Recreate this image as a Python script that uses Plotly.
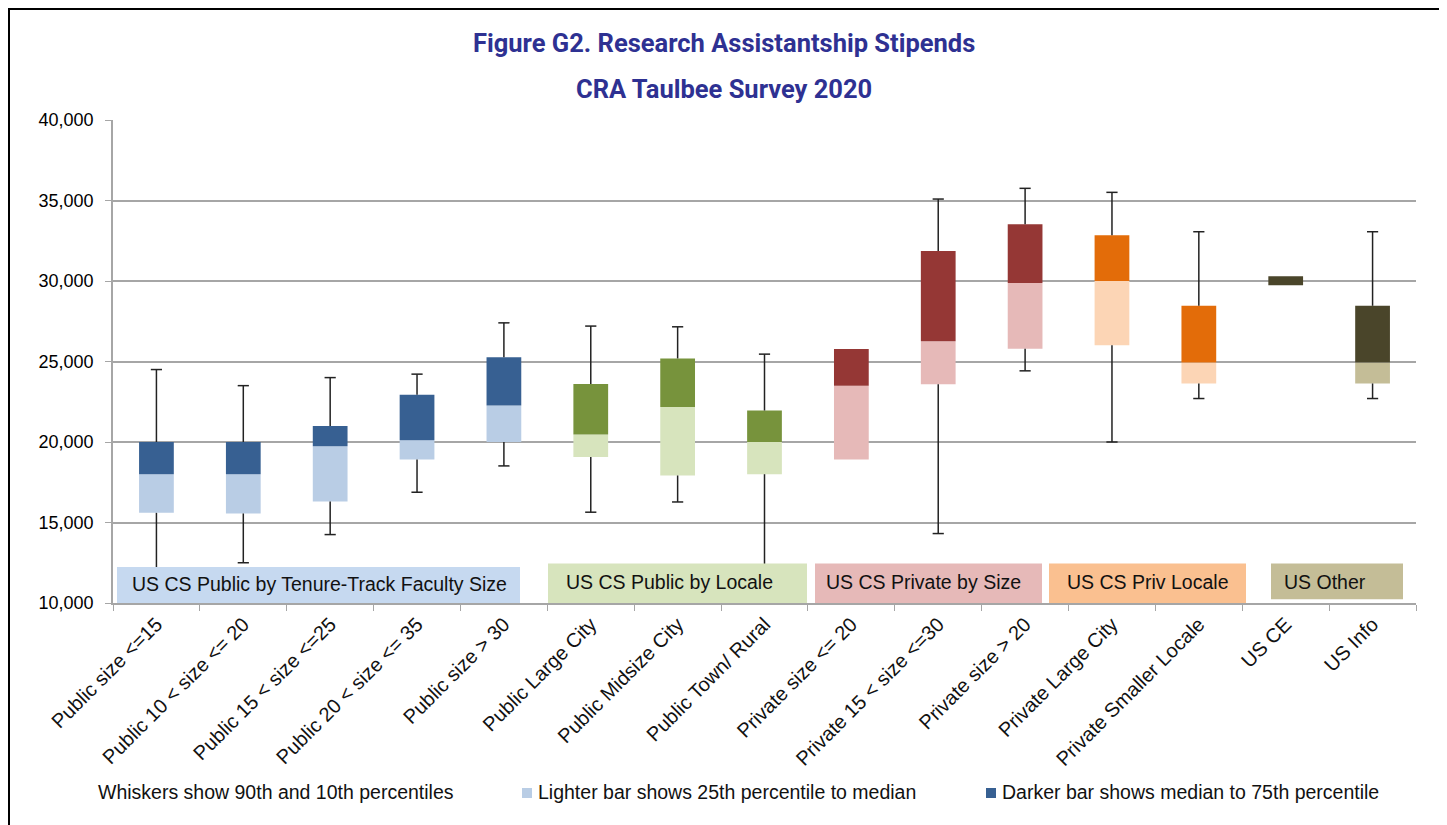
import plotly.graph_objects as go

categories = [
    "Public size <=15", "Public 10 < size <= 20", "Public 15 < size <=25",
    "Public 20 < size <= 35", "Public size > 30", "Public Large City",
    "Public Midsize City", "Public Town/ Rural", "Private size <= 20",
    "Private 15 < size <=30", "Private size > 20", "Private Large City",
    "Private Smaller Locale", "US CE", "US Info",
]
p10 = [12000, 12500, 14250, 16880, 18515, 15640, 16275, 12000, None, 14313, 24420, 20000, 22700, None, 22700]
q25 = [15600, 15560, 16300, 18910, 20000, 19075, 17920, 18000, 18910, 23590, 25787, 26016, 23635, 29730, 23635]
median = [18000, 18000, 19740, 20110, 22270, 20470, 22180, 20000, 23490, 26265, 29870, 30000, 24940, 29730, 24940]
q75 = [20000, 20000, 21000, 22930, 25270, 23610, 25190, 21955, 25770, 31858, 33518, 32834, 28460, 30290, 28460]
p90 = [24500, 23500, 24000, 24215, 27400, 27200, 27155, 25457, None, 35090, 35755, 35506, 33060, None, 33060]
group_of = [0, 0, 0, 0, 0, 1, 1, 1, 2, 2, 2, 3, 3, 4, 4]

group_names = ["US CS Public by Tenure-Track Faculty Size", "US CS Public by Locale",
               "US CS Private by Size", "US CS Priv Locale", "US Other"]
dark_colors = ["#376092", "#77933c", "#953735", "#e36c09", "#4a452a"]
light_colors = ["#b9cde5", "#d7e4bd", "#e6b9b8", "#fcd5b5", "#c4bd97"]
label_colors = ["#c6d9f0", "#d7e4bd", "#e6b9b8", "#fac090", "#c4bd97"]

legend_texts = ["Whiskers show 90th and 10th percentiles",
                "Lighter bar shows 25th percentile to median",
                "Darker bar shows median to 75th percentile"]

OFF = 8  # page body margin
W, H = 1447 - OFF, 825 - OFF
# plot area in page pixels
L, R, T, B = 113, 1416, 120, 603
FONT = "Liberation Sans, Arial, Helvetica, sans-serif"
TXT = "#111111"


def px_x(px):
    return (px - L) / (R - L)


def px_y(py):
    return (B - py) / (B - T)


def cat_x(px):
    return (px - L) / ((R - L) / len(categories)) - 0.5


fig = go.Figure()

# whiskers
wx, wy, cx, cy = [], [], [], []
for i, c in enumerate(categories):
    if p90[i] is not None:
        wx += [c, c, None]
        wy += [q75[i], p90[i], None]
        cx.append(c)
        cy.append(p90[i])
    if p10[i] is not None:
        wx += [c, c, None]
        wy += [q25[i], p10[i], None]
        cx.append(c)
        cy.append(p10[i])
fig.add_trace(go.Scatter(x=wx, y=wy, mode="lines", line=dict(color="#222222", width=1.5),
                         hoverinfo="skip", showlegend=False))
fig.add_trace(go.Scatter(x=cx, y=cy, mode="markers",
                         marker=dict(symbol="line-ew", size=8, line=dict(color="#222222", width=1.5)),
                         hoverinfo="skip", showlegend=False))

# boxes
fig.add_trace(go.Bar(
    x=categories, y=[m - a for m, a in zip(median, q25)], base=q25, width=0.4,
    marker=dict(color=[light_colors[g] for g in group_of], line=dict(width=0)),
    showlegend=False))
fig.add_trace(go.Bar(
    x=categories, y=[b - m for b, m in zip(q75, median)], base=median, width=0.4,
    marker=dict(color=[dark_colors[g] for g in group_of], line=dict(width=0)),
    showlegend=False))

fig.update_layout(barmode="overlay")

# group label boxes
label_boxes = [  # page pixel x extents, value y extents
    (117, 520, 12240, 10000),
    (548, 807, 12460, 10000),
    (815, 1042, 12460, 10000),
    (1049, 1246, 12460, 10000),
    (1271, 1403, 12460, 10230),
]
label_text_centers = [319, 669, 923, 1147, 1325]
shapes = []
annotations = []
for gi, (x0, x1, ytop, ybot) in enumerate(label_boxes):
    shapes.append(dict(type="rect", xref="x", yref="y", x0=cat_x(x0), x1=cat_x(x1),
                       y0=ybot, y1=ytop, fillcolor=label_colors[gi], line=dict(width=0),
                       layer="above"))
    annotations.append(dict(x=cat_x(label_text_centers[gi]), y=(ytop + 10000) / 2 + 50,
                            xref="x", yref="y", text=group_names[gi], showarrow=False,
                            font=dict(family=FONT, size=19.5, color=TXT),
                            xanchor="center", yanchor="middle"))

# titles
TFONT = "Roboto, Liberation Sans, Arial, sans-serif"
annotations.append(dict(x=px_x(723.5), y=px_y(43), xref="paper", yref="paper",
                        text="<b>Figure G2. Research Assistantship Stipends</b>", showarrow=False,
                        font=dict(family=TFONT, size=25.5, color="#2e3192"),
                        xanchor="center", yanchor="middle"))
annotations.append(dict(x=px_x(723.5), y=px_y(89), xref="paper", yref="paper",
                        text="<b>CRA Taulbee Survey 2020</b>", showarrow=False,
                        font=dict(family=TFONT, size=25.5, color="#2e3192"),
                        xanchor="center", yanchor="middle"))

# bottom legend
leg_y = px_y(792)
for xpos, txt in zip([96, 536, 1000], legend_texts):
    annotations.append(dict(x=px_x(xpos), y=leg_y, xref="paper", yref="paper", text=txt,
                            showarrow=False, font=dict(family=FONT, size=19.5, color=TXT),
                            xanchor="left", yanchor="middle"))
shapes.append(dict(type="rect", xref="paper", yref="paper", x0=px_x(522), x1=px_x(532),
                   y0=px_y(798), y1=px_y(788), fillcolor=light_colors[0], line=dict(width=0)))
shapes.append(dict(type="rect", xref="paper", yref="paper", x0=px_x(986), x1=px_x(996),
                   y0=px_y(798), y1=px_y(788), fillcolor=dark_colors[0], line=dict(width=0)))

# outer frame (clamped to the drawable area)
shapes.append(dict(type="rect", xref="paper", yref="paper", x0=px_x(OFF + 1), x1=px_x(1441),
                   y0=px_y(840), y1=px_y(OFF + 1), line=dict(color="#000000", width=2),
                   fillcolor="rgba(0,0,0,0)"))

fig.update_layout(
    width=W, height=H,
    margin=dict(l=L - OFF, r=W - (R - OFF), t=T - OFF, b=H - (B - OFF), pad=0),
    paper_bgcolor="white", plot_bgcolor="white",
    shapes=shapes, annotations=annotations,
    xaxis=dict(type="category", categoryorder="array", categoryarray=categories,
               range=[-0.5, len(categories) - 0.5], showgrid=False,
               showline=True, linecolor="#a6a6a6", linewidth=1.5,
               ticks="outside", tickson="boundaries", ticklen=6, tickcolor="#a6a6a6",
               tickangle=-45, tickfont=dict(family=FONT, size=20, color=TXT)),
    yaxis=dict(range=[10000, 40000], dtick=5000, tickformat=",",
               showgrid=True, gridcolor="#a6a6a6", gridwidth=1.5,
               showline=True, linecolor="#a6a6a6", linewidth=1.5,
               ticks="outside", ticklen=6, tickcolor="#a6a6a6",
               ticklabelstandoff=8,
               tickfont=dict(family=FONT, size=18, color="#000000"), zeroline=False),
)

fig.write_html("out.html")
